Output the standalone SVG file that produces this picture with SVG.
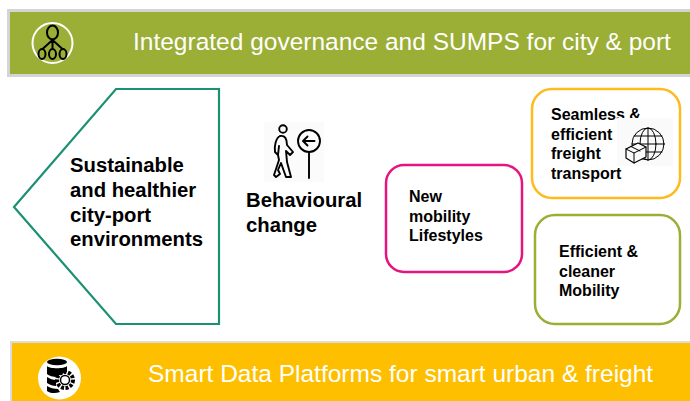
<svg xmlns="http://www.w3.org/2000/svg" width="690" height="401" viewBox="0 0 690 401">
<style>
text{font-family:"Liberation Sans",Arial,sans-serif;fill:#000}
.b{font-weight:bold;font-size:20.300px}
.band{fill:#fff;font-size:24.500px}
.n{font-size:16px;font-weight:bold}
.box{fill:#fff;stroke-width:2.500}
.ic{fill:none;stroke:#000;stroke-linecap:round;stroke-linejoin:round}
</style>
<rect width="690" height="401" fill="#fff"/>
<g id="top-band">
<rect x="8.500" y="10.500" width="690" height="65" fill="#9bae36" stroke="#d4d4d4" stroke-width="3"/>
<circle cx="52.500" cy="43" r="20" fill="none" stroke="#fff" stroke-width="2"/>
<g class="ic" stroke-width="2">
<ellipse cx="52.500" cy="32.500" rx="5.500" ry="7"/>
<ellipse cx="42" cy="54" rx="3.500" ry="5"/>
<ellipse cx="52.500" cy="54" rx="3.500" ry="5"/>
<ellipse cx="63" cy="54" rx="3.500" ry="5"/>
<path d="M52.500 39.500V49M52.500 40L42.500 49M52.500 40L62.500 49"/>
</g>
<text class="band" x="133" y="50">Integrated governance and SUMPS for city &amp; port</text>
</g>
<g id="environments">
<path d="M116 89H219V324H116L14 207Z" fill="#fff" stroke="#1b9073" stroke-width="2.200"/>
<text class="b" x="70" y="172">Sustainable</text>
<text class="b" x="70" y="197">and healthier</text>
<text class="b" x="70" y="222">city-port</text>
<text class="b" x="70" y="246">environments</text>
</g>
<g id="behaviour">
<rect x="264" y="122" width="60" height="60" fill="#fbfbfb"/>
<g class="ic" stroke-width="1.900">
<circle cx="283" cy="129" r="3.800"/>
<path d="M280 136C276 138 274 146 275 152L278 155L279 146M280 136C285 135 287 139 287 145L293 152L290 155L286 151L287 162L291 177H286L281 163L278 170L280 174L276 177L274 175L279 160L278 155"/>
<circle cx="309" cy="141" r="11"/>
<path d="M314.500 141H303.500M307.500 136.500L303 141L307.500 145.500M309 152V178"/>
</g>
<text class="b" x="246" y="207">Behavioural</text>
<text class="b" x="246" y="232">change</text>
</g>
<g id="lifestyles">
<rect class="box" x="386" y="165" width="136" height="107" rx="18" stroke="#e5147f"/>
<text class="n" x="409" y="202">New</text>
<text class="n" x="409" y="222">mobility</text>
<text class="n" x="409" y="241">Lifestyles</text>
</g>
<g id="freight">
<rect class="box" x="532" y="89" width="148" height="109" rx="20" stroke="#fdbb1c"/>
<text class="n" x="551" y="120">Seamless &amp;</text>
<text class="n" x="551" y="140">efficient</text>
<text class="n" x="551" y="159">freight</text>
<text class="n" x="551" y="179">transport</text>
<rect x="617" y="118" width="56" height="48" fill="#fafafa"/>
<g class="ic" stroke-width="1">
<circle cx="648" cy="144" r="16"/>
<ellipse cx="648" cy="144" rx="8" ry="16"/>
<path d="M648 128V160M634 136H662M632 144H664M634 152H662"/>
<path d="M626 149L638 143L646 147V157L634 163L626 158Z" fill="#fafafa" stroke-width="1.200"/>
<path d="M626 149L634 153L646 147M634 153V163M631 146.500L640 151"/>
</g>
</g>
<g id="mobility">
<rect class="box" x="535" y="215" width="145" height="109" rx="20" stroke="#9bae36"/>
<text class="n" x="559" y="257">Efficient &amp;</text>
<text class="n" x="559" y="277">cleaner</text>
<text class="n" x="559" y="296">Mobility</text>
</g>
<g id="bottom-band">
<rect x="11" y="342" width="690" height="70" fill="#fdbf00" stroke="#dcdcdc" stroke-width="2"/>
<circle cx="59.500" cy="378" r="21.500" fill="#fff"/>
<g fill="#000">
<ellipse cx="57" cy="362" rx="10" ry="3.200"/>
<path d="M47 366C49 369 65 369 67 366V372C63 373 59 375 57 377C53 377 49 376 47 374ZM47 377C50 379 53 380 56 380L56 386C53 386 50 385 47 383ZM47 386C50 388 54 389 58 389L60 392C55 394 49 393 47 391Z"/>
</g>
<circle cx="65" cy="380" r="8" fill="none" stroke="#000" stroke-width="4" stroke-dasharray="3 1.500"/>
<circle cx="65" cy="380" r="4.500" fill="none" stroke="#000" stroke-width="1.500"/>
<text class="band" x="148" y="382">Smart Data Platforms for smart urban &amp; freight</text>
</g>
</svg>
